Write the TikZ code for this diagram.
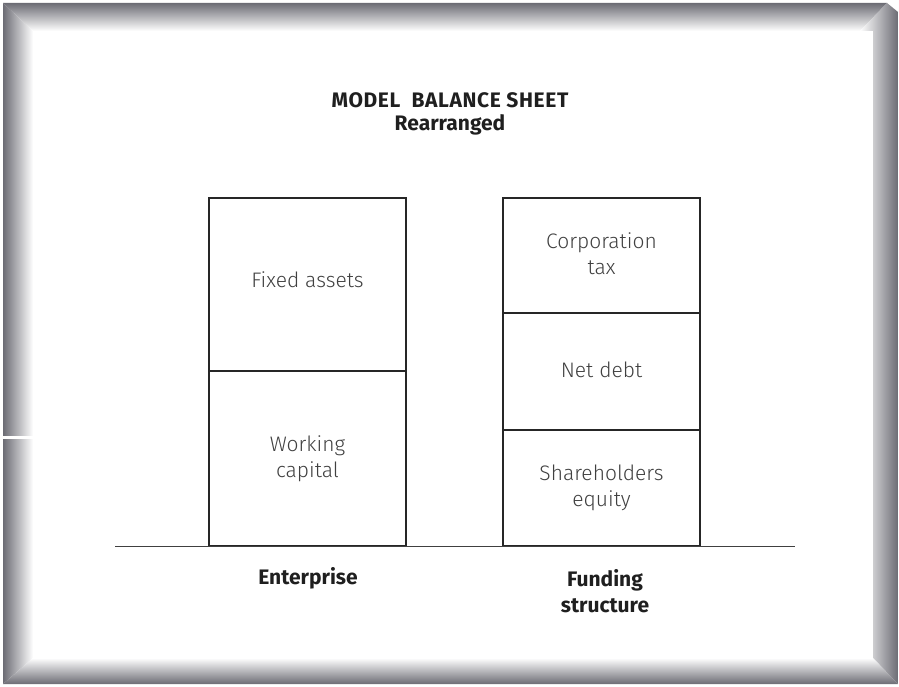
\documentclass[tikz,border=0pt]{standalone}
\usepackage{fontspec}
\setmainfont{Fira Sans}
\newfontfamily\lightfont{Fira Sans Light}
\begin{document}
\begin{tikzpicture}[x=1pt,y=-1pt,
  part/.style={draw=black!85,line width=1.8pt,minimum width=197pt,inner sep=0pt,outer sep=0pt},
  txt/.style={align=center,font=\lightfont\fontsize{21}{26}\selectfont,text=black!75,inner sep=0pt},
  label/.style={font=\bfseries\fontsize{21}{26}\selectfont,align=center,text=black!88}]
\useasboundingbox (0,0) rectangle (899,687);
\definecolor{edgedark}{RGB}{108,108,116}
% bevel frame
\shade[top color=edgedark,bottom color=white] (3,3) -- (887,3) -- (860,31) -- (33,31) -- cycle;
\shade[left color=edgedark,right color=white] (3,3) -- (33,31) -- (33,658) -- (3,684) -- cycle;
\shade[left color=white,right color=edgedark] (887,3) -- (898,12) -- (898,684) -- (873,658) -- (873,31) -- (860,31) -- cycle;
\shade[top color=white,bottom color=edgedark] (33,658) -- (873,658) -- (898,684) -- (3,684) -- cycle;
\fill[white] (3,436) rectangle (33,438.5);
% title
\node[label] (title) at (450,100) {\addfontfeatures{LetterSpace=3}MODEL\ \ BALANCE SHEET};
\node[label] (sub) at (450,125) {Rearranged};
% enterprise column
\node[part,minimum height=173pt,anchor=north] (fixed) at (307.5,198) {};
\node[part,minimum height=175pt,anchor=north] (wc) at (fixed.south) {};
% funding column
\node[part,minimum height=115pt,anchor=north] (tax) at (601.5,198) {};
\node[part,minimum height=117pt,anchor=north] (debt) at (tax.south) {};
\node[part,minimum height=116pt,anchor=north] (eq) at (debt.south) {};
% box texts
\node[txt,yshift=5pt] (fixedt) at (fixed.center) {Fixed assets};
\node[txt] (wct) at (wc.center) {Working\\capital};
\node[txt,yshift=2pt] (taxt) at (tax.center) {Corporation\\tax};
\node[txt,yshift=2pt] (debtt) at (debt.center) {Net debt};
\node[txt] (eqt) at (eq.center) {Shareholders\\equity};
% baseline
\coordinate (bl) at (115,546);
\coordinate (br) at (795,546);
\draw[line width=1pt,black!75] (bl) -- (br);
% labels
\node[label] (ent) at (308,578) {Enterprise};
\node[label] (fund) at (605,591) {Funding\\structure};
\end{tikzpicture}
\end{document}
